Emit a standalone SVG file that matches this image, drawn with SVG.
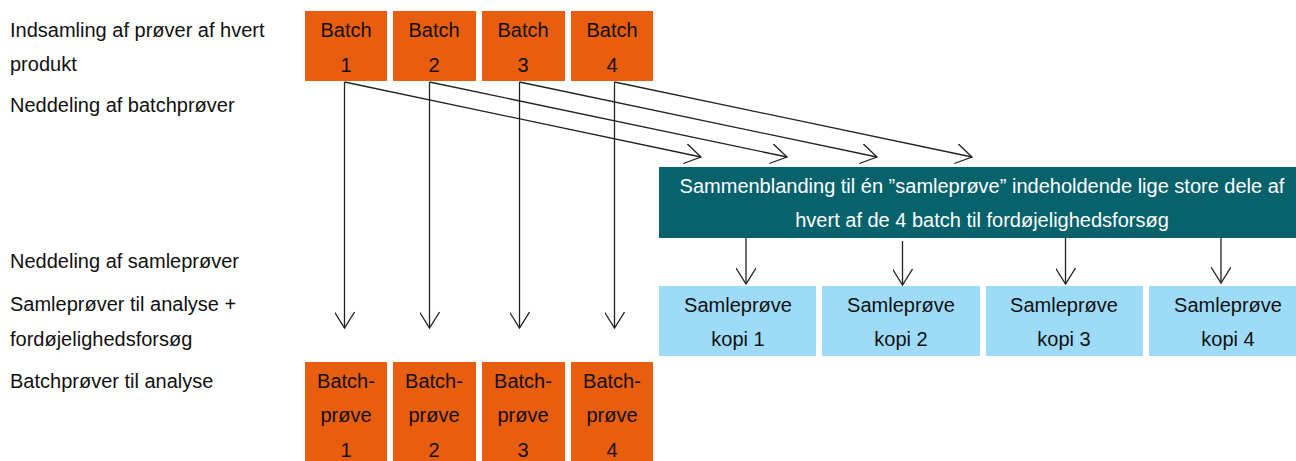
<svg xmlns="http://www.w3.org/2000/svg" width="1296" height="461" viewBox="0 0 1296 461">
<style>
text{font-family:"Liberation Sans",Arial,sans-serif;font-size:20px;fill:#111}
.c{text-anchor:middle}
.w{fill:#fff}
.or{fill:#E95D0F}
.tl{fill:#08626C}
.lb{fill:#9DDBF8}
.ln{stroke:#222;stroke-width:1.3;fill:none}
</style>
<defs>
<marker id="ah" viewBox="0 0 20 20" refX="17" refY="10" markerWidth="20" markerHeight="20" markerUnits="userSpaceOnUse" orient="auto">
<path d="M1,0 L17,10 L1,20" fill="none" stroke="#222" stroke-width="1.3"/>
</marker>
</defs>
<g id="labels">
<text x="10" y="37">Indsamling af prøver af hvert</text>
<text x="10" y="71">produkt</text>
<text x="10" y="112">Neddeling af batchprøver</text>
<text x="10" y="268">Neddeling af samleprøver</text>
<text x="10" y="311">Samleprøver til analyse +</text>
<text x="10" y="346">fordøjelighedsforsøg</text>
<text x="10" y="388">Batchprøver til analyse</text>
</g>
<g id="batch1"><rect class="or" x="305" y="11" width="82" height="70"/><text class="c" x="346" y="37">Batch</text><text class="c" x="346" y="72">1</text></g>
<g id="batch2"><rect class="or" x="393" y="11" width="83" height="70"/><text class="c" x="434" y="37">Batch</text><text class="c" x="434" y="72">2</text></g>
<g id="batch3"><rect class="or" x="482" y="11" width="83" height="70"/><text class="c" x="523" y="37">Batch</text><text class="c" x="523" y="72">3</text></g>
<g id="batch4"><rect class="or" x="571" y="11" width="82" height="70"/><text class="c" x="612" y="37">Batch</text><text class="c" x="612" y="72">4</text></g>
<g id="mix"><rect class="tl" x="659" y="167" width="650" height="71"/><text class="c w" x="982" y="193">Sammenblanding til én ”samleprøve” indeholdende lige store dele af</text><text class="c w" x="982" y="227">hvert af de 4 batch til fordøjelighedsforsøg</text></g>
<g id="kopi1"><rect class="lb" x="659" y="286" width="157" height="70"/><text class="c" x="738" y="312">Samleprøve</text><text class="c" x="738" y="346">kopi 1</text></g>
<g id="kopi2"><rect class="lb" x="822" y="286" width="158" height="70"/><text class="c" x="901" y="312">Samleprøve</text><text class="c" x="901" y="346">kopi 2</text></g>
<g id="kopi3"><rect class="lb" x="986" y="286" width="157" height="70"/><text class="c" x="1064" y="312">Samleprøve</text><text class="c" x="1064" y="346">kopi 3</text></g>
<g id="kopi4"><rect class="lb" x="1149" y="286" width="160" height="70"/><text class="c" x="1228" y="312">Samleprøve</text><text class="c" x="1228" y="346">kopi 4</text></g>
<g id="bp1"><rect class="or" x="305" y="362" width="82" height="110"/><text class="c" x="346" y="388">Batch-</text><text class="c" x="346" y="422">prøve</text><text class="c" x="346" y="457">1</text></g>
<g id="bp2"><rect class="or" x="393" y="362" width="83" height="110"/><text class="c" x="434" y="388">Batch-</text><text class="c" x="434" y="422">prøve</text><text class="c" x="434" y="457">2</text></g>
<g id="bp3"><rect class="or" x="482" y="362" width="83" height="110"/><text class="c" x="523" y="388">Batch-</text><text class="c" x="523" y="422">prøve</text><text class="c" x="523" y="457">3</text></g>
<g id="bp4"><rect class="or" x="571" y="362" width="82" height="110"/><text class="c" x="612" y="388">Batch-</text><text class="c" x="612" y="422">prøve</text><text class="c" x="612" y="457">4</text></g>
<g id="connectors" class="ln">
<line class="ln" x1="344.5" y1="82" x2="344.5" y2="328" marker-end="url(#ah)"/>
<line class="ln" x1="429.5" y1="82" x2="429.5" y2="328" marker-end="url(#ah)"/>
<line class="ln" x1="519.5" y1="82" x2="519.5" y2="328" marker-end="url(#ah)"/>
<line class="ln" x1="614.5" y1="82" x2="614.5" y2="328" marker-end="url(#ah)"/>
<line class="ln" x1="344.5" y1="82" x2="701" y2="157" marker-end="url(#ah)"/>
<line class="ln" x1="429.5" y1="82" x2="787" y2="157" marker-end="url(#ah)"/>
<line class="ln" x1="519.5" y1="82" x2="877" y2="157" marker-end="url(#ah)"/>
<line class="ln" x1="614.5" y1="82" x2="972" y2="157" marker-end="url(#ah)"/>
<line class="ln" x1="746" y1="238" x2="746" y2="284" marker-end="url(#ah)"/>
<line class="ln" x1="902.5" y1="241" x2="902.5" y2="285" marker-end="url(#ah)"/>
<line class="ln" x1="1065.5" y1="238" x2="1065.5" y2="284" marker-end="url(#ah)"/>
<line class="ln" x1="1221" y1="238" x2="1221" y2="283" marker-end="url(#ah)"/>
</g>
</svg>
